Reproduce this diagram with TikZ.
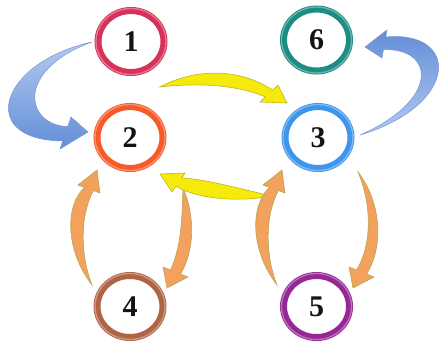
\documentclass[tikz,border=0pt]{standalone}
\usepackage{fontspec}
\setmainfont{Liberation Serif}
\usetikzlibrary{shapes.geometric}
\definecolor{cOne}{RGB}{214,50,90}
\definecolor{cTwo}{RGB}{245,90,40}
\definecolor{cThree}{RGB}{60,150,235}
\definecolor{cFour}{RGB}{175,100,70}
\definecolor{cFive}{RGB}{150,40,150}
\definecolor{cSix}{RGB}{30,140,130}
\definecolor{blLight}{RGB}{178,202,240}
\definecolor{blDark}{RGB}{100,142,216}
\definecolor{blEdge}{RGB}{120,150,205}
\definecolor{yelFill}{RGB}{246,234,10}
\definecolor{yelEdge}{RGB}{190,180,40}
\definecolor{orFill}{RGB}{242,162,92}
\definecolor{orEdge}{RGB}{185,165,85}
\begin{document}
\begin{tikzpicture}[x=1pt,y=-1pt,
  ringnode/.style={ellipse, draw, line width=7pt, minimum width=66pt, minimum height=62pt,
    inner sep=0pt, fill=white, font=\fontsize{30}{32}\selectfont\bfseries, text=black!92},
  gloss/.style={draw=white, opacity=0.35, line width=1.3pt},
  bluearrowA/.style={draw=blEdge, line width=0.5pt, top color=blLight, bottom color=blDark},
  bluearrowB/.style={draw=blEdge, line width=0.5pt, top color=blDark, bottom color=blLight},
  yelarrow/.style={draw=yelEdge, line width=0.6pt, fill=yelFill},
  orarrow/.style={draw=orEdge, line width=0.6pt, fill=orFill},
]
\useasboundingbox (0,0) rectangle (441,340);

% arrows
\path[bluearrowA] (92,42) .. controls (0,62) and (-25,140) .. (62.75,141)
  -- (60,149) -- (88,132) -- (71,117) -- (67.7,126.6)
  .. controls (25,125) and (15,70) .. (92,42) -- cycle;
\path[yelarrow] (160,87) .. controls (195,68) and (240,68) .. (272.6,90.1)
  -- (278,85) -- (287,103) -- (260,102) -- (265.4,96.9)
  .. controls (235,84) and (195,83) .. (160,87) -- cycle;
\path[bluearrowB] (360,135) .. controls (460,105) and (460,30) .. (385.75,37)
  -- (387,30) -- (365,47) -- (382,58) -- (383.5,49.6)
  .. controls (435,48) and (440,100) .. (360,135) -- cycle;
\path[orarrow] (92,285) .. controls (65,250) and (65,205) .. (84.6,187.4)
  -- (78,185) -- (97,170) -- (100,193) -- (93.4,190.6)
  .. controls (80,215) and (80,255) .. (92,285) -- cycle;
\path[orarrow] (183,188) .. controls (195,215) and (195,250) .. (180.5,274)
  -- (188,277) -- (167,288) -- (163,267) -- (170.5,270)
  .. controls (182,245) and (182,215) .. (183,188) -- cycle;
\path[yelarrow] (181.75,177.75) -- (185,173) -- (160,174) -- (172,192) -- (175.9,186.3)
  .. controls (200,200) and (240,202) .. (272,196)
  .. controls (245,190) and (210,180) .. (181.75,177.75) -- cycle;
\path[orarrow] (277,285) .. controls (250,250) and (250,205) .. (269.6,187.4)
  -- (263,185) -- (282,170) -- (285,193) -- (278.4,190.6)
  .. controls (265,215) and (265,255) .. (277,285) -- cycle;
\path[orarrow] (358,172) .. controls (380,200) and (385,245) .. (366.5,274)
  -- (374,277) -- (353,288) -- (349,267) -- (356.5,270)
  .. controls (372,245) and (372,205) .. (358,172) -- cycle;

% circles
\node[ringnode, draw=cOne]   (c1) at (131,41.5) {1};
\node[ringnode, draw=cTwo]   (c2) at (130,137.5) {2};
\node[ringnode, draw=cThree] (c3) at (318,137.5) {3};
\node[ringnode, draw=cFour]  (c4) at (130,306.5) {4};
\node[ringnode, draw=cFive]  (c5) at (316.5,306.5) {5};
\node[ringnode, draw=cSix]   (c6) at (316.5,40) {6};
\foreach \n in {c1,c2,c3,c4,c5,c6}
  \draw[gloss] (\n.center) ellipse [x radius=35, y radius=33];
\end{tikzpicture}
\end{document}
